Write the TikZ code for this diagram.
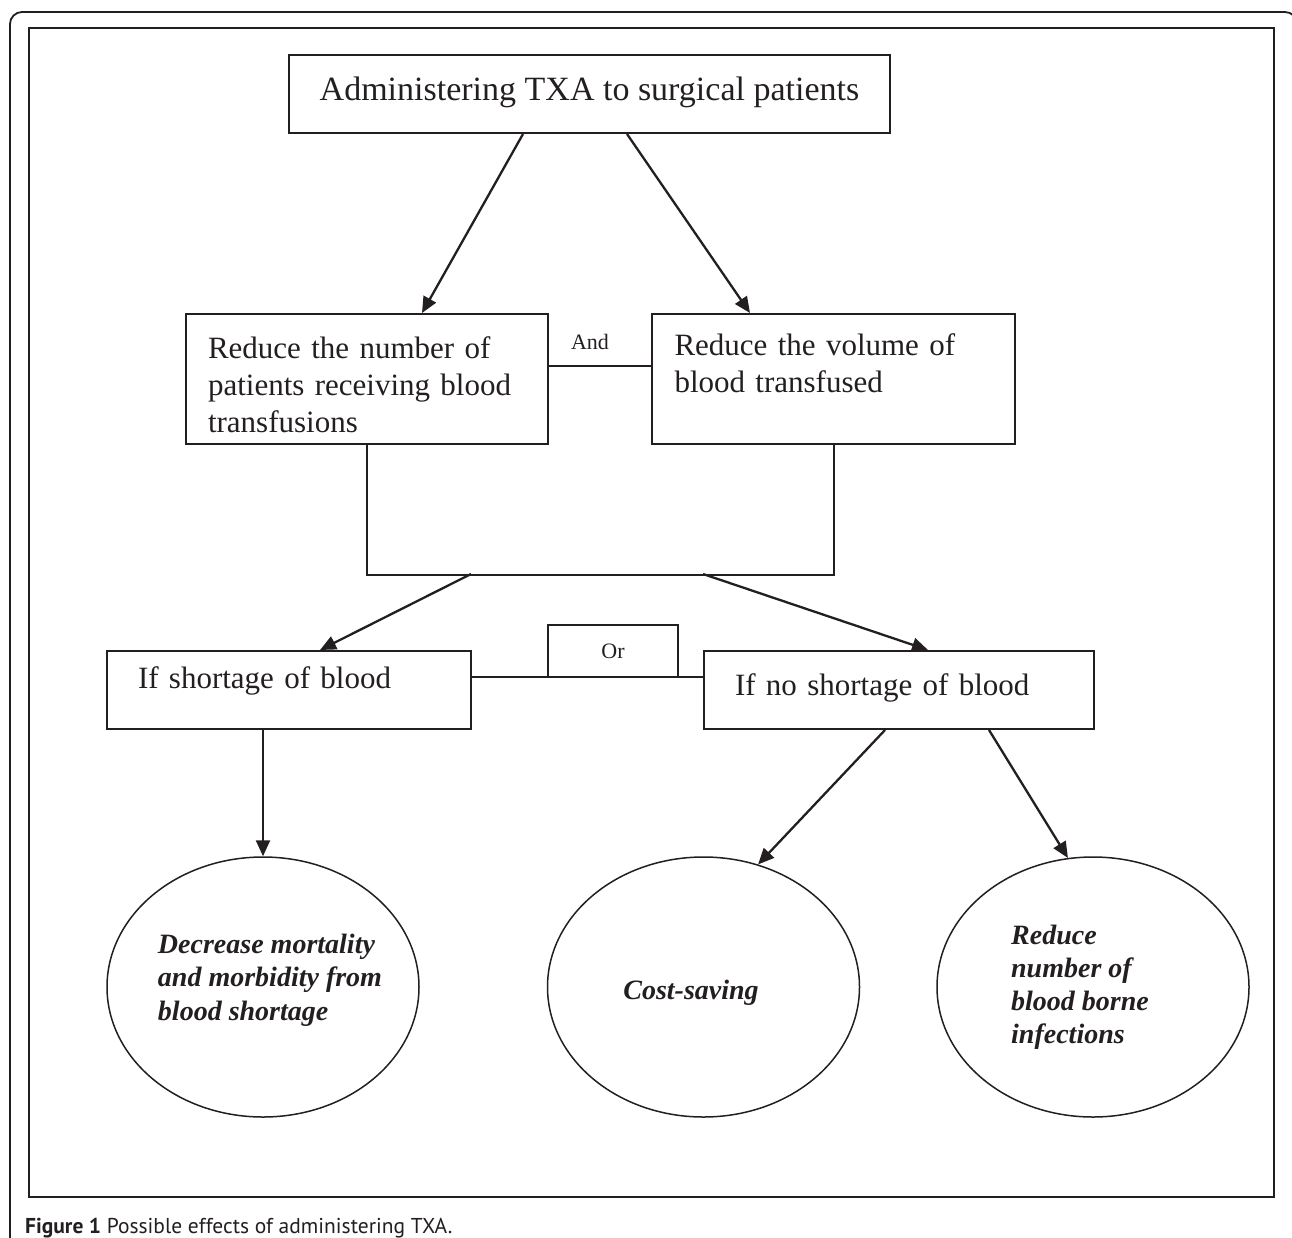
\documentclass[tikz,border=0pt]{standalone}
\usepackage{fontspec}
\setmainfont{Liberation Serif}
\newfontfamily\capfont{PT Sans}
\usetikzlibrary{shapes.geometric,arrows.meta}
\definecolor{ink}{HTML}{231F20}
\newcommand{\lift}[1]{\rule{0pt}{#1}}

\begin{document}
\begin{tikzpicture}[x=1pt,y=-1pt,color=ink,
    box/.style={draw, line width=2pt, rectangle, inner sep=0pt, align=left},
    oval/.style={draw, line width=1.5pt, ellipse, inner sep=0pt, minimum width=312pt, minimum height=260pt},
    ovaltext/.style={align=left, inner sep=0pt, font=\fontsize{28}{33.5}\selectfont\bfseries\itshape},
    arr/.style={-{Triangle[length=16pt,width=14pt]}, line width=2.3pt},
    link/.style={line width=2pt}]
  \useasboundingbox (0,0) rectangle (1292,1237);
  \clip (0,0) rectangle (1292,1237);
  % frames
  \draw[line width=1.8pt, rounded corners=12pt] (10,1260) -- (10,12) -- (1297,12) -- (1297,1260);
  \draw[line width=2pt] (29,28) rectangle (1274,1197);
  % boxes
  \node[box, minimum width=601pt, minimum height=78pt, text height=24pt, text depth=12pt,
        font=\fontsize{34}{40}\selectfont] (top) at (589.5,94) {Administering TXA to surgical patients};
  \node[box, minimum width=362pt, minimum height=130pt, text width=318pt,
        font=\fontsize{31}{37}\selectfont] (fewer) at (367,379)
        {\lift{33pt}Reduce the number of\\ patients receiving blood\\ transfusions};
  \node[box, minimum width=363pt, minimum height=130pt, text width=318pt,
        font=\fontsize{31}{37}\selectfont] (volume) at (833.5,379)
        {\lift{21pt}Reduce the volume of\\ blood transfused\rule[-32pt]{0pt}{0pt}};
  \node[font=\fontsize{22}{26}\selectfont] (andlabel) at (590,342) {And};
  \node[box, minimum width=364pt, minimum height=78pt, text width=302pt, text height=21pt, text depth=25pt,
        font=\fontsize{31}{37}\selectfont] (shortage) at (289,690) {If shortage of blood};
  \node[box, minimum width=390pt, minimum height=78pt, text width=328pt, text height=21pt, text depth=11pt,
        font=\fontsize{31}{37}\selectfont] (noshortage) at (899,690) {If no shortage of blood};
  \node[box, minimum width=130pt, minimum height=52pt, align=center,
        font=\fontsize{22}{26}\selectfont] (orbox) at (613,651) {Or};
  % outcomes
  \node[oval] (mortality) at (263,987) {};
  \node[ovaltext] (mortalitytext) at (270,980) {Decrease mortality\\ and morbidity from\\ blood shortage};
  \node[oval] (cost) at (703.5,987) {};
  \node[ovaltext] (costtext) at (691,993) {Cost-saving};
  \node[oval] (infections) at (1093,987) {};
  \node[ovaltext, font=\fontsize{28}{33}\selectfont\bfseries\itshape] (infectionstext) at (1080,987)
        {Reduce\\ number of\\ blood borne\\ infections};
  % connectors
  \draw[arr] ([xshift=-66.5pt]top.south) -- ([xshift=55pt]fewer.north);
  \draw[arr] ([xshift=37.5pt]top.south) -- ([xshift=-83.5pt]volume.north);
  \draw[link] ([yshift=13pt]fewer.east) -- ([yshift=13pt]volume.west);
  \draw[link] (fewer.south) -- ++(0,130) -| (volume.south);
  \coordinate (splitl) at (471,574);
  \coordinate (splitr) at (703,574);
  \draw[arr] (splitl) -- ([xshift=31pt]shortage.north);
  \draw[arr] (splitr) -- ([xshift=29pt]noshortage.north);
  \draw[link] ([yshift=13pt]shortage.east) -- ([yshift=13pt]noshortage.west);
  \draw[arr] ([xshift=-26pt]shortage.south) -- (mortality.north);
  \draw[arr] ([xshift=-14pt]noshortage.south) -- (cost.66);
  \draw[arr] ([xshift=90pt]noshortage.south) -- (infections.101);
  % caption
  \node[anchor=base west, inner sep=0pt, font=\capfont\fontsize{21.5}{24}\selectfont] (caption) at (25,1233)
        {\textbf{Figure 1} Possible effects of administering TXA.};
\end{tikzpicture}
\end{document}
